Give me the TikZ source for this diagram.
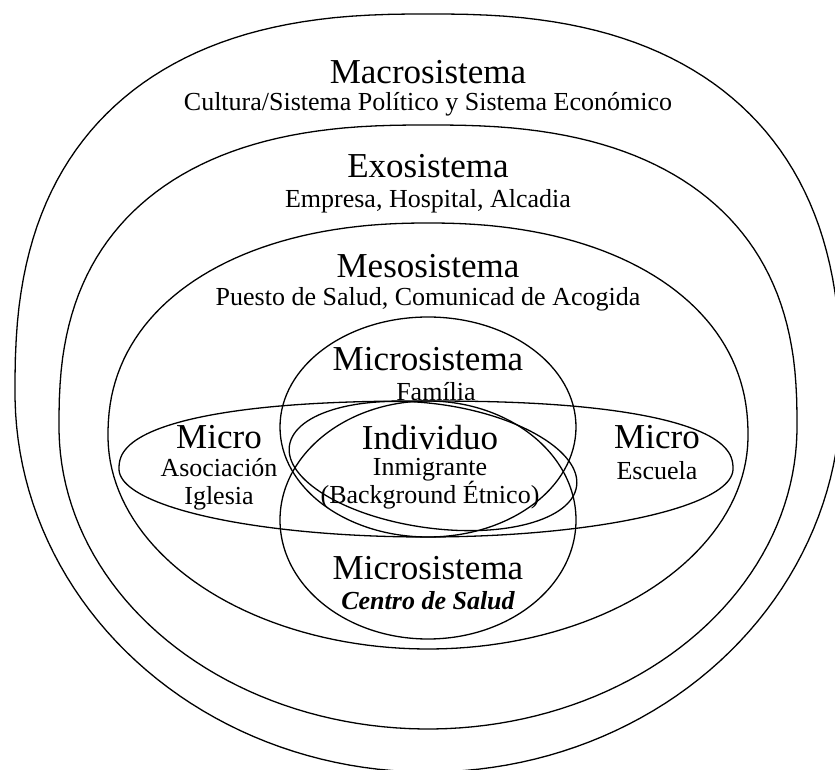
\documentclass[tikz,border=0pt]{standalone}
\usepackage{fontspec}
\setmainfont{Liberation Serif}
\usetikzlibrary{shapes.geometric}
\tikzset{
  rim/.style={line width=1.3pt, line join=round},
  ring/.style={rim, draw, ellipse, inner sep=0pt},
  title/.style={font=\fontsize{35}{40}\selectfont, inner sep=0pt},
  sub/.style={font=\fontsize{26}{28}\selectfont, inner sep=0pt, align=center},
}
% ring with a fuller upper half: centre x, centre y, half width, half height, upper exponent
\newcommand{\sysring}[5]{%
  \draw[rim] plot[domain=1:361, samples=181, variable=\t]
    ({#1+#3*sign(cos(\t))*abs(cos(\t))^(2/(sin(\t)<0 ? #5 : 2))},
     {#2+#4*sign(sin(\t))*abs(sin(\t))^(2/(sin(\t)<0 ? #5 : 2))}) -- cycle;}
\begin{document}
\begin{tikzpicture}[x=1pt, y=-1pt]
  \useasboundingbox (0,0) rectangle (835,770);
  \clip (0,0) rectangle (835,770);
  % nested systems
  \sysring{428}{393}{413}{379}{2.5}
  \sysring{428}{427}{369}{302}{2.5}
  \sysring{428}{436}{320}{213}{2.2}
  % micro systems
  \sysring{426}{469}{307}{68}{2.4}
  \node[ring, minimum width=296pt, minimum height=220pt] (familia) at (428,427) {};
  \node[ring, minimum width=296pt, minimum height=238pt] (salud) at (428,520) {};
  \node[ring, minimum width=290pt, minimum height=124pt, rotate=-8] (indiv) at (433,466) {};

  \node[title] (macroT) at (428,72) {Macrosistema};
  \node[sub] (macroS) at (428,104) {Cultura/Sistema Político y Sistema Económico};
  \node[title] (exoT) at (428,166) {Exosistema};
  \node[sub] (exoS) at (428,201) {Empresa, Hospital, Alcadia};
  \node[title] (mesoT) at (428,266) {Mesosistema};
  \node[sub] (mesoS) at (428,299) {Puesto de Salud, Comunicad de Acogida};
  \node[title] (famT) at (428,359) {Microsistema};
  \node[sub] (famS) at (436,392) {Família};
  \node[title] (leftT) at (219,437) {Micro};
  \node[sub] (leftS) at (219,484) {Asociación\\Iglesia};
  \node[title] (indT) at (430,438) {Individuo};
  \node[sub] (indS) at (430,484) {Inmigrante\\(Background Étnico)};
  \node[title] (rightT) at (657,437) {Micro};
  \node[sub] (rightS) at (657,471) {Escuela};
  \node[title] (salT) at (428,568) {Microsistema};
  \node[sub] (salS) at (428,601) {\bfseries\itshape Centro de Salud};
\end{tikzpicture}
\end{document}
